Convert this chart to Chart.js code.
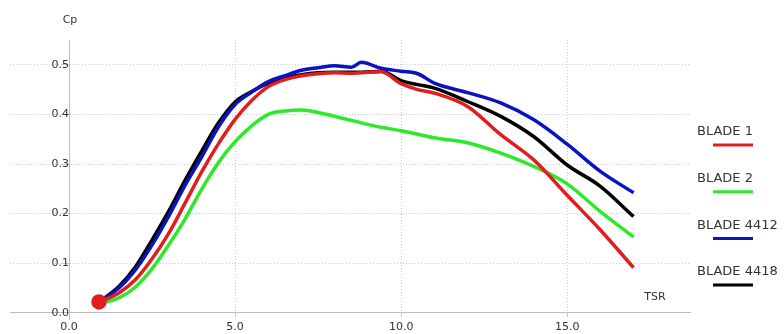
<!DOCTYPE html>
<html>
<head>
<meta charset="utf-8">
<script src="https://cdn.jsdelivr.net/npm/chart.js@4"></script>
<style>
  body { margin: 0; background: #fff; }
  canvas { display: block; }
</style>
</head>
<body>
<canvas id="cpChart" width="784" height="334"></canvas>
<script>
// TSR points
const tsr = [0.9, 1.5, 2, 2.5, 3, 3.5, 4, 4.5, 5, 5.5, 6, 6.5, 7, 7.5, 8, 8.5, 8.8, 9.4, 10, 10.5, 11, 12, 13, 14, 15, 16, 17];

const blade1 = [0.022, 0.04, 0.067, 0.109, 0.16, 0.222, 0.285, 0.341, 0.39, 0.428, 0.456, 0.47, 0.478, 0.482, 0.484, 0.483, 0.484, 0.486, 0.462, 0.45, 0.443, 0.416, 0.359, 0.308, 0.237, 0.167, 0.091];
const blade2 = [0.018, 0.03, 0.052, 0.089, 0.137, 0.19, 0.25, 0.303, 0.345, 0.377, 0.40, 0.407, 0.409, 0.404, 0.396, 0.388, 0.383, 0.374, 0.367, 0.36, 0.353, 0.343, 0.322, 0.295, 0.26, 0.204, 0.153];
const blade4412 = [0.022, 0.05, 0.087, 0.137, 0.195, 0.258, 0.315, 0.375, 0.42, 0.445, 0.466, 0.478, 0.489, 0.494, 0.498, 0.495, 0.505, 0.493, 0.487, 0.482, 0.463, 0.444, 0.423, 0.389, 0.34, 0.285, 0.242];
const blade4418 = [0.022, 0.053, 0.093, 0.147, 0.205, 0.268, 0.327, 0.383, 0.425, 0.446, 0.463, 0.473, 0.48, 0.484, 0.485, 0.485, 0.485, 0.487, 0.468, 0.46, 0.453, 0.426, 0.396, 0.355, 0.298, 0.255, 0.194];

const seriesNames = ['BLADE 1', 'BLADE 2', 'BLADE 4412', 'BLADE 4418'];
const xTicks = [0, 5, 10, 15];
const yTicks = [0, 0.1, 0.2, 0.3, 0.4, 0.5];

const FONT = '"DejaVu Sans", sans-serif';
const colors = ['#e21d1d', '#2ee82a', '#0a12c4', '#000000'];

function toPoints(values) {
    return tsr.map((t, i) => ({ x: t, y: values[i] }));
}

// legend: name with a short coloured bar under it, plus the axis names
const sideLegend = {
    id: 'sideLegend',
    afterDraw(chart) {
        const ctx = chart.ctx;
        ctx.save();
        ctx.font = '13px ' + FONT;
        ctx.textBaseline = 'middle';
        ctx.textAlign = 'left';
        chart.data.datasets.forEach((ds, i) => {
            const y = 132 + i * 46.7;
            ctx.fillStyle = '#333';
            ctx.fillText(ds.label, 697, y);
            ctx.strokeStyle = ds.borderColor;
            ctx.lineWidth = 3;
            ctx.beginPath();
            ctx.moveTo(713, y + 13);
            ctx.lineTo(753, y + 13);
            ctx.stroke();
        });
        ctx.font = '11px ' + FONT;
        ctx.fillStyle = '#333';
        ctx.textAlign = 'center';
        ctx.fillText('Cp', 70, 20);
        ctx.fillText('TSR', 655, 297);
        ctx.restore();
    }
};

const allSeries = [blade1, blade2, blade4412, blade4418];

new Chart(document.getElementById('cpChart'), {
    type: 'line',
    data: {
        datasets: allSeries.map((vals, i) => ({
            label: seriesNames[i],
            data: toPoints(vals),
            borderColor: colors[i],
            backgroundColor: colors[i],
            borderWidth: 3.5,
            pointRadius: i === 0 ? tsr.map((t, k) => (k === 0 ? 6 : 0)) : 0,
            cubicInterpolationMode: 'monotone',
            fill: false
        }))
    },
    options: {
        responsive: false,
        animation: false,
        devicePixelRatio: 1,
        layout: { padding: { left: 10, top: 40, right: 94, bottom: 15 } },
        plugins: {
            legend: { display: false },
            tooltip: { enabled: false }
        },
        scales: {
            x: {
                type: 'linear',
                min: -1.78,
                max: 18.7,
                position: { y: 0 },
                afterBuildTicks: scale => { scale.ticks = xTicks.map(v => ({ value: v })); },
                ticks: {
                    callback: v => v.toFixed(1),
                    color: '#333',
                    font: { family: FONT, size: 11 },
                    padding: 5,
                    maxRotation: 0
                },
                grid: { color: '#c8c8c8', tickLength: 3, tickBorderDash: [] },
                border: { color: '#bdbdbd', dash: [1, 2] }
            },
            y: {
                min: -0.0125,
                max: 0.55,
                position: { x: 0 },
                afterBuildTicks: scale => { scale.ticks = yTicks.map(v => ({ value: v })); },
                ticks: {
                    callback: v => v.toFixed(1),
                    color: '#333',
                    font: { family: FONT, size: 11 },
                    padding: 3
                },
                grid: { color: '#c8c8c8', tickLength: 8, tickBorderDash: [] },
                border: { color: '#bdbdbd', dash: [1, 2] }
            }
        }
    },
    plugins: [sideLegend]
});
</script>
</body>
</html>
